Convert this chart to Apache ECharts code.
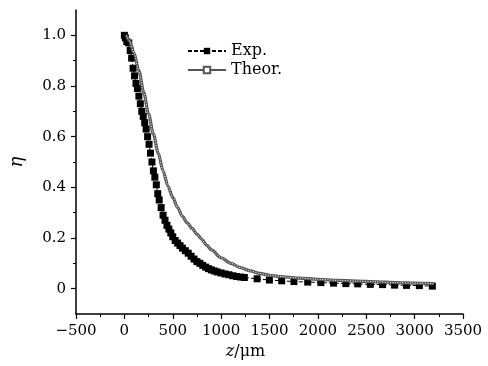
<!DOCTYPE html>
<html>
<head>
<meta charset="utf-8">
<script src="https://cdn.jsdelivr.net/npm/echarts@6/dist/echarts.min.js"></script>
<style>html,body{margin:0;padding:0;background:#fff}#c{width:488px;height:366px}</style>
</head>
<body>
<div id="c"></div>
<script>
// Experimental data (z in µm, eta)
var expZ = [0,10,25,45,60,75,90,105,120,135,150,165,180,195,210,225,240,255,270,285,300,315,330,345,360,380,400,420,440,460,480,500,525,550,575,600,630,660,690,720,750,780,810,840,870,900,930,960,1000,1040,1080,1120,1160,1200,1240,
            1372,1499,1626,1753,1895,2031,2162,2289,2412,2542,2669,2793,2916,3049,3183];
var expEta = [1.0,0.99,0.975,0.97,0.94,0.91,0.87,0.84,0.81,0.79,0.76,0.73,0.70,0.68,0.655,0.63,0.60,0.57,0.535,0.50,0.465,0.44,0.41,0.375,0.35,0.32,0.29,0.27,0.25,0.235,0.22,0.205,0.19,0.18,0.17,0.16,0.15,0.14,0.128,0.117,0.107,0.10,0.092,0.085,0.079,0.074,0.07,0.066,0.062,0.058,0.055,0.051,0.048,0.046,0.044,
              0.039,0.034,0.031,0.028,0.026,0.024,0.022,0.020,0.019,0.017,0.016,0.014,0.013,0.012,0.010];
// Theoretical curve
var theorZ = [20,50,100,150,200,250,300,350,400,450,500,550,600,650,700,750,800,850,900,1000,1100,1200,1300,1400,1500,1600,1800,2000,2200,2400,2600,2800,3000,3200];
var theorEta = [1.0,0.98,0.93,0.86,0.775,0.69,0.61,0.535,0.465,0.405,0.36,0.32,0.285,0.26,0.238,0.215,0.195,0.172,0.153,0.122,0.1,0.083,0.07,0.06,0.053,0.048,0.042,0.037,0.033,0.03,0.027,0.024,0.022,0.02];
var xTicks = [-500,0,500,1000,1500,2000,2500,3000,3500];
var yMajor = [0,0.2,0.4,0.6,0.8,1.0];
var yMinor = [0.1,0.3,0.5,0.7,0.9];

function pairs(a,b){return a.map(function(v,i){return [v,b[i]];});}

var font = 'DejaVu Serif';
var chart = echarts.init(document.getElementById('c'));
chart.setOption({
  animation:false,
  backgroundColor:'#fff',
  textStyle:{fontFamily:font},
  grid:{left:74,right:25,top:10,bottom:52},
  legend:{
    orient:'vertical', left:182, top:38, itemGap:3,
    itemWidth:38, itemHeight:8,
    textStyle:{fontFamily:font,fontSize:16,color:'#000'},
    data:['Exp.','Theor.']
  },
  xAxis:{
    type:'value', min:-500, max:3500, interval:500,
    axisLine:{onZero:false,lineStyle:{color:'#000',width:1.5}},
    axisTick:{length:5,lineStyle:{color:'#000',width:1.2}},
    minorTick:{show:true,splitNumber:2,length:3,lineStyle:{color:'#000'}},
    splitLine:{show:false},
    axisLabel:{fontFamily:font,fontSize:15,color:'#000',margin:10,
      formatter:function(v){return v<0?'\u2212'+(-v):String(v);}},
    name:'{i|z}/\u03bcm', nameLocation:'middle', nameGap:30,
    nameTextStyle:{fontFamily:font,fontSize:16,color:'#000',padding:[0,48,0,0],
      rich:{i:{fontFamily:font,fontStyle:'italic',fontSize:16,color:'#000'}}}
  },
  yAxis:[{
    type:'value', min:-0.1, max:1.1, interval:0.1,
    axisLine:{show:true,onZero:false,lineStyle:{color:'#000',width:1.5}},
    axisTick:{length:5,customValues:yMajor,lineStyle:{color:'#000',width:1.2}},
    splitLine:{show:false},
    axisLabel:{fontFamily:font,fontSize:15,color:'#000',margin:10,customValues:yMajor,
      formatter:function(v){return Math.abs(v)<1e-9?'0':v.toFixed(1);}},
    name:'\u03b7', nameLocation:'middle', nameGap:50,
    nameTextStyle:{fontFamily:font,fontStyle:'italic',fontSize:18,color:'#000'}
  },{
    type:'value', min:-0.1, max:1.1, interval:0.1, position:'left',
    axisLine:{show:false,onZero:false},
    axisTick:{show:true,length:3,customValues:yMinor,lineStyle:{color:'#000'}},
    axisLabel:{show:false}, splitLine:{show:false}
  }],
  series:[
    {name:'Exp.', type:'line', data:pairs(expZ,expEta), yAxisIndex:0,
     symbol:'rect', symbolSize:7, showAllSymbol:true,
     itemStyle:{color:'#000'},
     lineStyle:{color:'#000',width:1,type:[4,2]}, z:2},
    {name:'Theor.', type:'line', data:pairs(theorZ,theorEta), yAxisIndex:0,
     symbol:'emptyRect', symbolSize:7, showSymbol:false, smooth:0.3, smoothMonotone:'x',
     itemStyle:{color:'#555'},
     lineStyle:{color:'#555',width:3.2}, z:3},
    {name:'TheorCore', type:'line', data:pairs(theorZ,theorEta), yAxisIndex:0,
     symbol:'none', smooth:0.3, smoothMonotone:'x', silent:true,
     lineStyle:{color:'#fff',width:1,type:[1,1.5]}, z:4}
  ]
});
</script>
</body>
</html>
